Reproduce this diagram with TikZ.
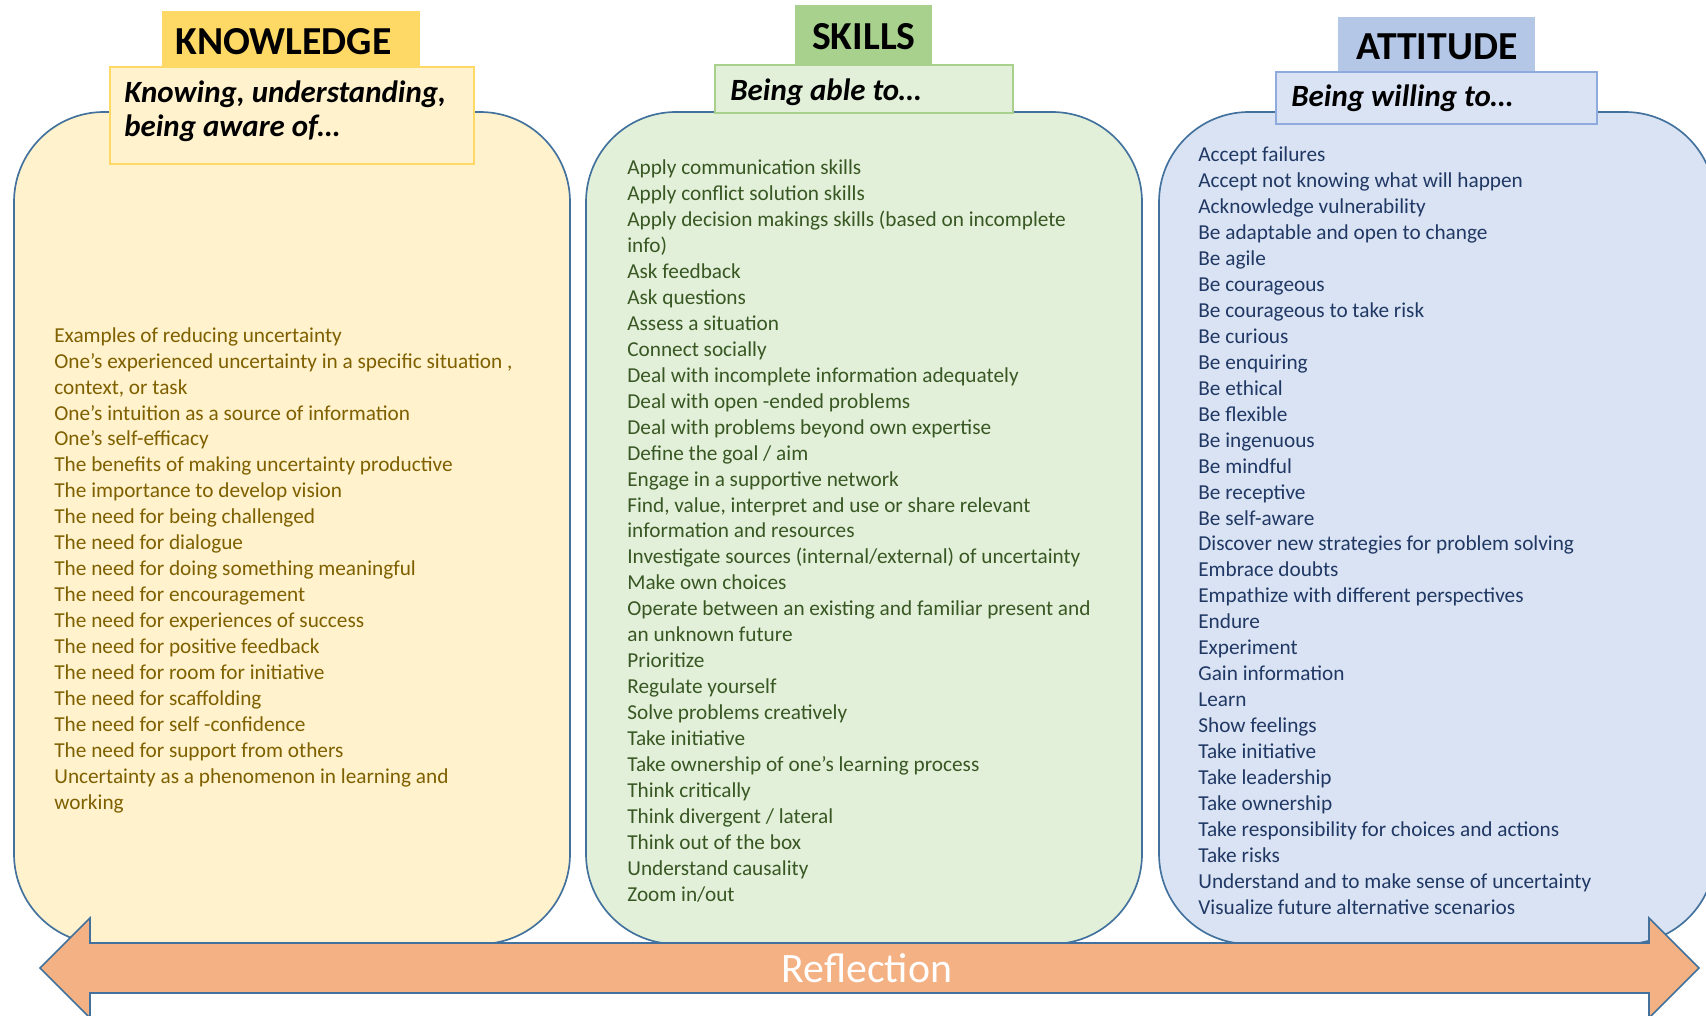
\documentclass[tikz,border=0pt]{standalone}
\usepackage{fontspec}
\setmainfont{Carlito}
\definecolor{kgold}{HTML}{FFD966}
\definecolor{klight}{HTML}{FFF2CC}
\definecolor{ktext}{HTML}{7F6000}
\definecolor{sgreen}{HTML}{A9D18E}
\definecolor{slight}{HTML}{E2F0D9}
\definecolor{stext}{HTML}{385723}
\definecolor{ablue}{HTML}{B4C7E7}
\definecolor{alight}{HTML}{DAE3F3}
\definecolor{aedge}{HTML}{8FAADC}
\definecolor{atext}{HTML}{203864}
\definecolor{edge}{HTML}{41719C}
\definecolor{reflorange}{HTML}{F4B183}
\begin{document}
\begin{tikzpicture}[x=0.02cm,y=-0.02cm]
\tikzstyle{panel}=[draw=edge,line width=0.95pt,rounded corners=1.8cm]
\tikzstyle{head}=[anchor=north west,inner sep=0pt,text height=0.6cm,text depth=0pt,font=\fontsize{22.6}{27}\selectfont\bfseries]
\tikzstyle{subbox}=[line width=0.6pt]
\tikzstyle{subtext}=[anchor=base west,inner sep=0pt,align=left,font=\fontsize{17.6}{19.84}\selectfont\bfseries\itshape]
\tikzstyle{items}=[anchor=base west,inner sep=0pt,align=left,font=\fontsize{12.1}{14.76}\selectfont]
\useasboundingbox (0,0) rectangle (1706,1016);
% the three panels
\draw[panel,fill=klight] (14,112) rectangle (570,944);
\draw[panel,fill=slight] (586,112) rectangle (1142,944);
\draw[panel,fill=alight] (1159,112) rectangle (1715,944);
% headers
\node[head,fill=kgold,minimum height=1.12cm,text width=4.64cm,inner xsep=0.26cm] (khead) at (162,11) {KNOWLEDGE};
\node[head,fill=sgreen,minimum width=2.74cm,minimum height=1.18cm] (shead) at (795,5) {SKILLS};
\node[head,fill=ablue,minimum width=3.94cm,minimum height=1.1cm] (ahead) at (1338,17) {ATTITUDE};
\draw[subbox,draw=kgold,fill=klight] (110,67) rectangle (474,164);
\draw[subbox,draw=sgreen,fill=slight] (715,65) rectangle (1013,113);
\draw[subbox,draw=aedge,fill=alight] (1276,72) rectangle (1597,124);
% base of a node with several lines = its last line
\node[subtext] (ksub) at (124,137) {Knowing, understanding,\\being aware of…};
\node[subtext] (ssub) at (730,101) {Being able to…};
\node[subtext] (asub) at (1291,107) {Being willing to…};
% lists
\node[items,text=ktext] (klist) at (54,809) {Examples of reducing uncertainty\\
One’s experienced uncertainty in a specific situation ,\\
context, or task\\
One’s intuition as a source of information\\
One’s self-efficacy\\
The benefits of making uncertainty productive\\
The importance to develop vision\\
The need for being challenged\\
The need for dialogue\\
The need for doing something meaningful\\
The need for encouragement\\
The need for experiences of success\\
The need for positive feedback\\
The need for room for initiative\\
The need for scaffolding\\
The need for self -confidence\\
The need for support from others\\
Uncertainty as a phenomenon in learning and\\
working};
\node[items,text=stext] (slist) at (627,901) {Apply communication skills\\
Apply conflict solution skills\\
Apply decision makings skills (based on incomplete\\
info)\\
Ask feedback\\
Ask questions\\
Assess a situation\\
Connect socially\\
Deal with incomplete information adequately\\
Deal with open -ended problems\\
Deal with problems beyond own expertise\\
Define the goal / aim\\
Engage in a supportive network\\
Find, value, interpret and use or share relevant\\
information and resources\\
Investigate sources (internal/external) of uncertainty\\
Make own choices\\
Operate between an existing and familiar present and\\
an unknown future\\
Prioritize\\
Regulate yourself\\
Solve problems creatively\\
Take initiative\\
Take ownership of one’s learning process\\
Think critically\\
Think divergent / lateral\\
Think out of the box\\
Understand causality\\
Zoom in/out};
\node[items,text=atext] (alist) at (1198,914) {Accept failures\\
Accept not knowing what will happen\\
Acknowledge vulnerability\\
Be adaptable and open to change\\
Be agile\\
Be courageous\\
Be courageous to take risk\\
Be curious\\
Be enquiring\\
Be ethical\\
Be flexible\\
Be ingenuous\\
Be mindful\\
Be receptive\\
Be self-aware\\
Discover new strategies for problem solving\\
Embrace doubts\\
Empathize with different perspectives\\
Endure\\
Experiment\\
Gain information\\
Learn\\
Show feelings\\
Take initiative\\
Take leadership\\
Take ownership\\
Take responsibility for choices and actions\\
Take risks\\
Understand and to make sense of uncertainty\\
Visualize future alternative scenarios};
% reflection arrow
\draw[draw=edge,line width=0.95pt,fill=reflorange] (40,968) -- (90,918) -- (90,943) -- (1649,943) -- (1649,918) -- (1699,968) -- (1649,1018) -- (1649,993) -- (90,993) -- (90,1018) -- cycle;
\node[inner sep=0pt,text=white,font=\fontsize{23.8}{28}\selectfont] (refl) at (867,968) {Reflection};
\end{tikzpicture}
\end{document}
